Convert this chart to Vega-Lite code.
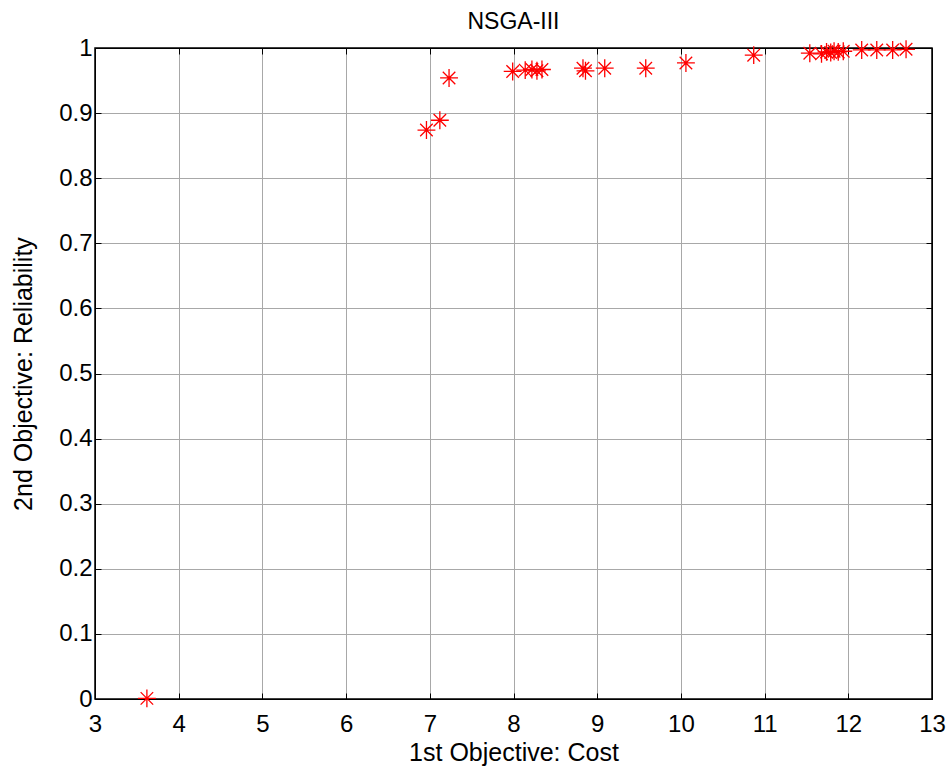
{
  "$schema": "https://vega.github.io/schema/vega-lite/v6.json",
  "autosize": "none",
  "width": 837,
  "height": 651,
  "padding": {"left": 95, "top": 48, "right": 18, "bottom": 71},
  "background": "white",
  "title": {"text": "NSGA-III", "font": "Liberation Sans", "fontSize": 23, "fontWeight": "normal", "color": "black", "offset": 2},
  "config": {
    "view": {"stroke": "black", "strokeWidth": 1.5},
    "axis": {"labelFont": "Liberation Sans", "titleFont": "Liberation Sans", "labelFontSize": 24, "titleFontSize": 25, "titleFontWeight": "normal", "labelColor": "black", "titleColor": "black", "domainColor": "black", "tickColor": "black", "tickSize": -6, "gridColor": "#a8a8a8", "gridWidth": 1, "gridOpacity": 1, "labelOverlap": false, "labelFlush": false, "format": "~g"}
  },
  "data": {"values": [
    {"cost": 3.62, "rel": 0.001},
    {"cost": 6.96, "rel": 0.874},
    {"cost": 7.12, "rel": 0.889},
    {"cost": 7.23, "rel": 0.954},
    {"cost": 7.99, "rel": 0.964},
    {"cost": 8.14, "rel": 0.966},
    {"cost": 8.22, "rel": 0.967},
    {"cost": 8.28, "rel": 0.965},
    {"cost": 8.34, "rel": 0.967},
    {"cost": 8.83, "rel": 0.969},
    {"cost": 8.86, "rel": 0.965},
    {"cost": 9.09, "rel": 0.969},
    {"cost": 9.58, "rel": 0.969},
    {"cost": 10.06, "rel": 0.977},
    {"cost": 10.87, "rel": 0.989},
    {"cost": 11.54, "rel": 0.992},
    {"cost": 11.68, "rel": 0.991},
    {"cost": 11.74, "rel": 0.994},
    {"cost": 11.79, "rel": 0.993},
    {"cost": 11.83, "rel": 0.995},
    {"cost": 11.88, "rel": 0.994},
    {"cost": 11.94, "rel": 0.995},
    {"cost": 12.16, "rel": 0.997},
    {"cost": 12.34, "rel": 0.997},
    {"cost": 12.53, "rel": 0.997},
    {"cost": 12.69, "rel": 0.998}
  ]},
  "layer": [
    {
      "mark": {"type": "point", "shape": "M-1,0L1,0M0,-1L0,1M-0.7,-0.7L0.7,0.7M-0.7,0.7L0.7,-0.7", "filled": false, "stroke": "red", "strokeWidth": 1.3, "size": 320, "opacity": 1},
      "encoding": {
        "x": {"field": "cost", "type": "quantitative", "scale": {"domain": [3, 13], "nice": false, "zero": false}, "axis": {"title": "1st Objective: Cost", "values": [3,4,5,6,7,8,9,10,11,12,13], "labelPadding": 19, "titlePadding": 4}},
        "y": {"field": "rel", "type": "quantitative", "scale": {"domain": [0, 1], "nice": false}, "axis": {"title": "2nd Objective: Reliability", "values": [0,0.1,0.2,0.3,0.4,0.5,0.6,0.7,0.8,0.9,1], "labelPadding": 9, "titlePadding": 22}}
      }
    },
    {
      "mark": {"type": "point", "opacity": 0},
      "encoding": {
        "x": {"field": "cost", "type": "quantitative", "scale": {"domain": [3, 13], "nice": false, "zero": false}, "axis": {"orient": "top", "title": null, "labels": false, "grid": false, "values": [3,4,5,6,7,8,9,10,11,12,13]}},
        "y": {"field": "rel", "type": "quantitative", "scale": {"domain": [0, 1], "nice": false}, "axis": {"orient": "right", "title": null, "labels": false, "grid": false, "values": [0,0.1,0.2,0.3,0.4,0.5,0.6,0.7,0.8,0.9,1]}}
      }
    }
  ],
  "resolve": {"axis": {"x": "independent", "y": "independent"}}
}
